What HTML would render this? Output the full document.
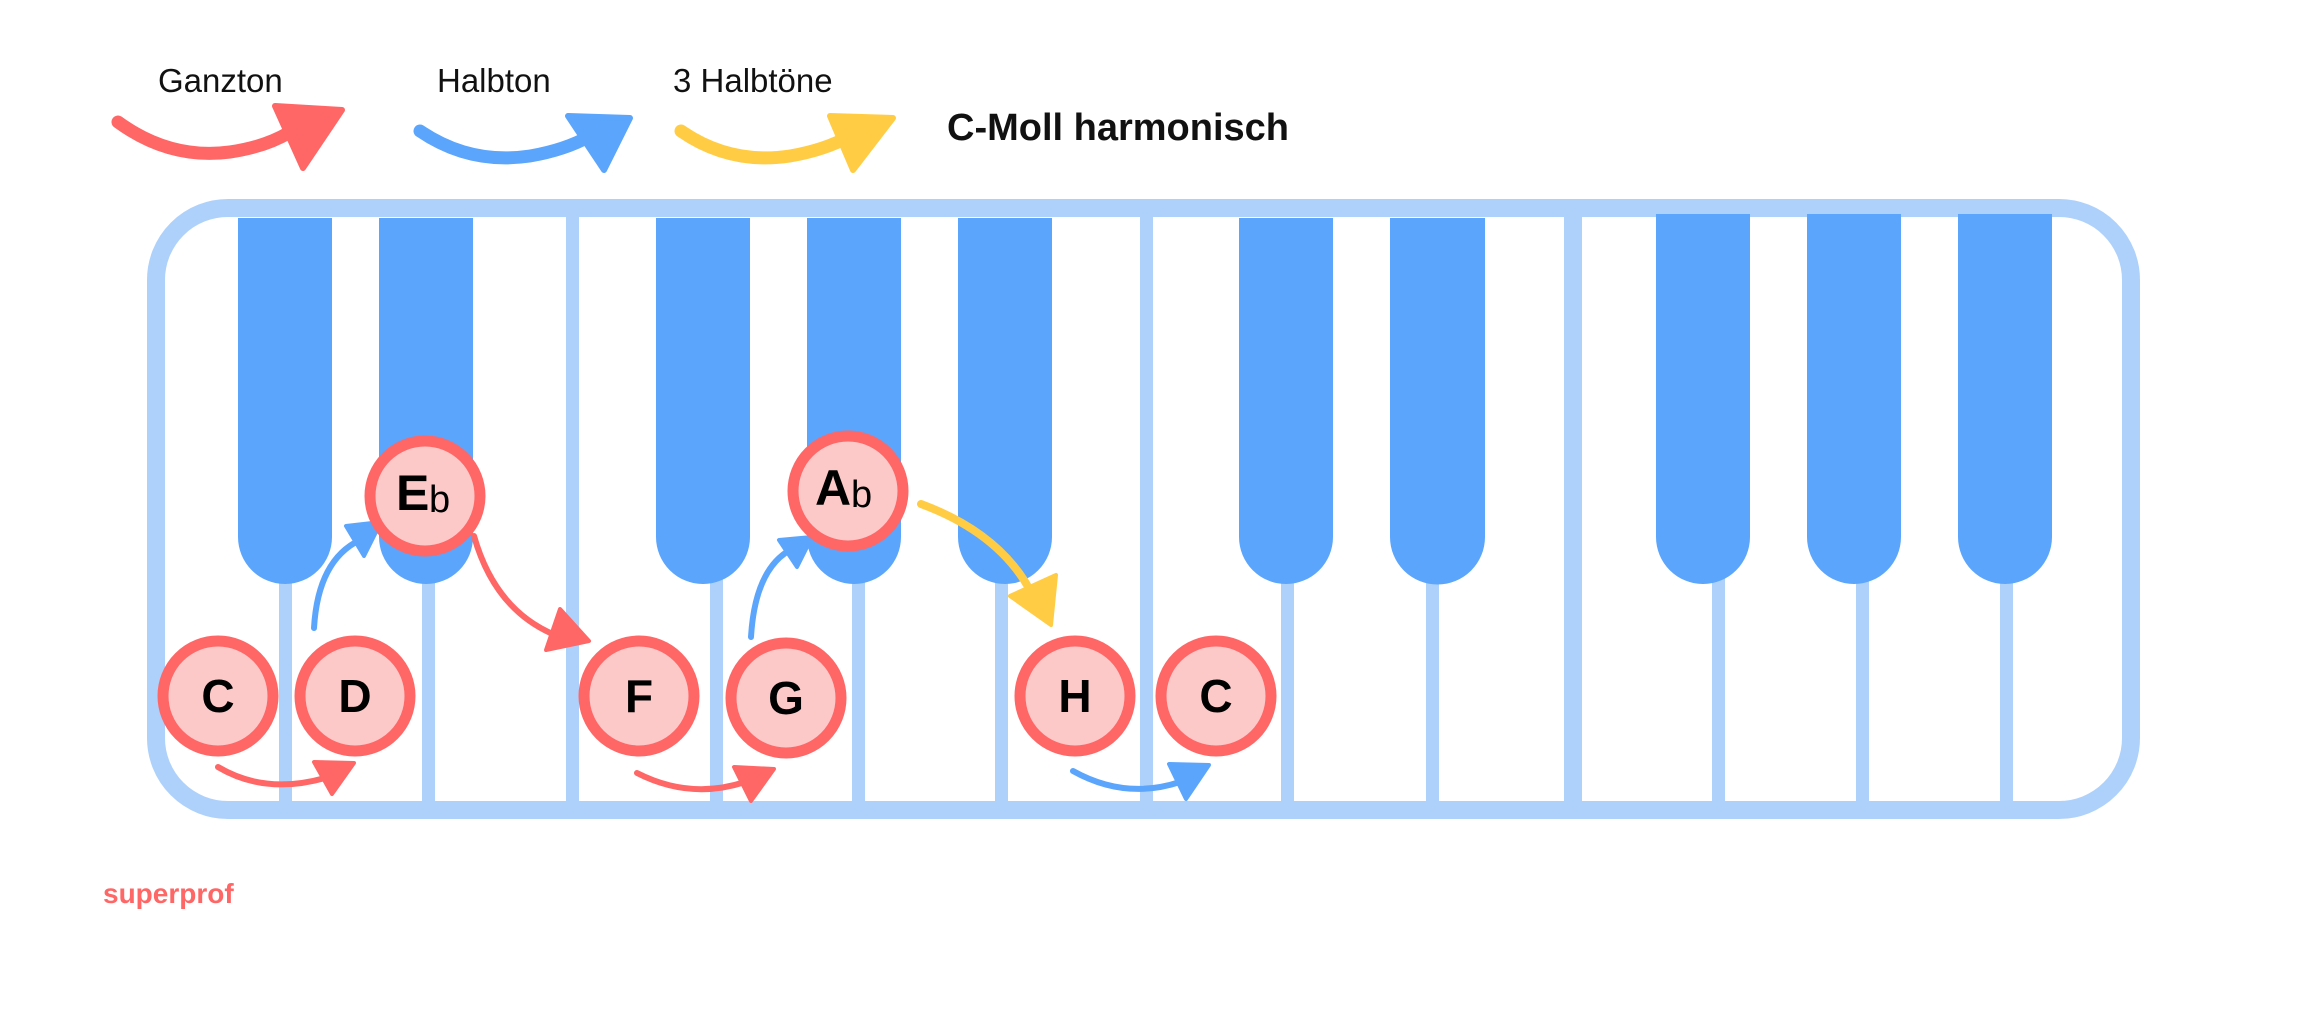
<!DOCTYPE html>
<html><head><meta charset="utf-8"><style>
html,body{margin:0;padding:0;background:#fff;}
svg{display:block;}
text{font-family:"Liberation Sans",sans-serif;}
</style></head><body>
<svg width="2310" height="1029" viewBox="0 0 2310 1029" xmlns="http://www.w3.org/2000/svg">
<rect width="2310" height="1029" fill="#fff"/>
<!-- legend -->
<text x="158" y="92" font-size="33" fill="#111">Ganzton</text>
<text x="437" y="92" font-size="33" fill="#111">Halbton</text>
<text x="673" y="92" font-size="33" fill="#111">3 Halbtöne</text>
<text x="947" y="140" font-size="38" font-weight="bold" fill="#111">C-Moll harmonisch</text>
<g fill="none" stroke-width="13" stroke-linecap="round">
<path d="M118 122 Q170 160 230 152 Q265 147 290 132" stroke="#ff6666"/>
<path d="M420 131 Q470 165 530 156 Q565 150 590 136" stroke="#5ba5fc"/>
<path d="M681 131 Q730 165 790 156 Q825 150 850 136" stroke="#ffcc44"/>
</g>
<polygon points="275,106 342,110 303,168" fill="#ff6666" stroke="#ff6666" stroke-width="6" stroke-linejoin="round"/>
<polygon points="568,116 630,118 604,170" fill="#5ba5fc" stroke="#5ba5fc" stroke-width="6" stroke-linejoin="round"/>
<polygon points="830,116 893,118 853,170" fill="#ffcc44" stroke="#ffcc44" stroke-width="6" stroke-linejoin="round"/>

<!-- frame -->
<rect x="156" y="208" width="1975" height="602" rx="72" ry="72" fill="#fff" stroke="#aed1fc" stroke-width="18"/>
<!-- white key dividers -->
<g fill="#aed1fc">
<rect x="566" y="214" width="13" height="590"/>
<rect x="1140" y="214" width="13" height="590"/>
<rect x="1564" y="214" width="18" height="590"/>
<rect x="279" y="560" width="13" height="244"/>
<rect x="422" y="560" width="13" height="244"/>
<rect x="710" y="560" width="13" height="244"/>
<rect x="852" y="560" width="13" height="244"/>
<rect x="995" y="560" width="13" height="244"/>
<rect x="1281" y="560" width="13" height="244"/>
<rect x="1426" y="560" width="13" height="244"/>
<rect x="1712" y="560" width="13" height="244"/>
<rect x="1856" y="560" width="13" height="244"/>
<rect x="2000" y="560" width="13" height="244"/>
</g>
<!-- black keys -->
<g fill="#5ba5fc">
<path d="M238 218 H332 V537 A47 47 0 0 1 238 537 Z"/>
<path d="M379 218 H473 V537 A47 47 0 0 1 379 537 Z"/>
<path d="M656 218 H750 V537 A47 47 0 0 1 656 537 Z"/>
<path d="M807 218 H901 V537 A47 47 0 0 1 807 537 Z"/>
<path d="M958 218 H1052 V537 A47 47 0 0 1 958 537 Z"/>
<path d="M1239 218 H1333 V537 A47 47 0 0 1 1239 537 Z"/>
<path d="M1390 218 H1485 V537 A47 47 0 0 1 1390 537 Z"/>
<path d="M1656 214 H1750 V537 A47 47 0 0 1 1656 537 Z"/>
<path d="M1807 214 H1901 V537 A47 47 0 0 1 1807 537 Z"/>
<path d="M1958 214 H2052 V537 A47 47 0 0 1 1958 537 Z"/>
</g>
<!-- arrows -->
<g fill="none" stroke-width="6" stroke-linecap="round">
<path d="M218 767 Q265 795 325 778" stroke="#ff6666"/>
<path d="M314 628 Q318 560 360 540" stroke="#5ba5fc"/>
<path d="M474 536 Q495 610 555 635" stroke="#ff6666"/>
<path d="M637 773 Q690 800 745 782" stroke="#ff6666"/>
<path d="M751 637 Q755 570 790 550" stroke="#5ba5fc"/>
<path d="M921 504 Q1005 535 1035 600" stroke="#ffcc44" stroke-width="8"/>
<path d="M1073 771 Q1125 800 1180 782" stroke="#5ba5fc"/>
</g>
<g stroke-linejoin="round" stroke-width="4">
<polygon points="314,762 354,763 332,794" fill="#ff6666" stroke="#ff6666"/>
<polygon points="346,526 381,522 364,556" fill="#5ba5fc" stroke="#5ba5fc"/>
<polygon points="560,609 589,641 546,650" fill="#ff6666" stroke="#ff6666"/>
<polygon points="734,767 774,769 751,801" fill="#ff6666" stroke="#ff6666"/>
<polygon points="779,540 812,537 797,567" fill="#5ba5fc" stroke="#5ba5fc"/>
<polygon points="1010,596 1056,575 1051,625" fill="#ffcc44" stroke="#ffcc44"/>
<polygon points="1169,764 1209,765 1186,799" fill="#5ba5fc" stroke="#5ba5fc"/>
</g>
<!-- notes -->
<g fill="#fdc8c8" stroke="#ff6666" stroke-width="11">
<circle cx="218" cy="696" r="55"/>
<circle cx="355" cy="696" r="55"/>
<circle cx="425" cy="496" r="55"/>
<circle cx="639" cy="696" r="55"/>
<circle cx="786" cy="698" r="55"/>
<circle cx="848" cy="491" r="55"/>
<circle cx="1075" cy="696" r="55"/>
<circle cx="1216" cy="696" r="55"/>
</g>
<g font-size="46" font-weight="bold" fill="#000" text-anchor="middle">
<text x="218" y="712">C</text>
<text x="355" y="712">D</text>
<text x="639" y="712">F</text>
<text x="786" y="714">G</text>
<text x="1075" y="712">H</text>
<text x="1216" y="712">C</text>
</g>
<text x="396" y="510" font-size="50" font-weight="bold" fill="#000">E</text>
<text x="429" y="512" font-size="38" fill="#000">b</text>
<text x="815" y="505" font-size="50" font-weight="bold" fill="#000">A</text>
<text x="851" y="507" font-size="38" fill="#000">b</text>
<text x="103" y="903" font-size="28" font-weight="bold" fill="#ff6666">superprof</text>
</svg>
</body></html>
